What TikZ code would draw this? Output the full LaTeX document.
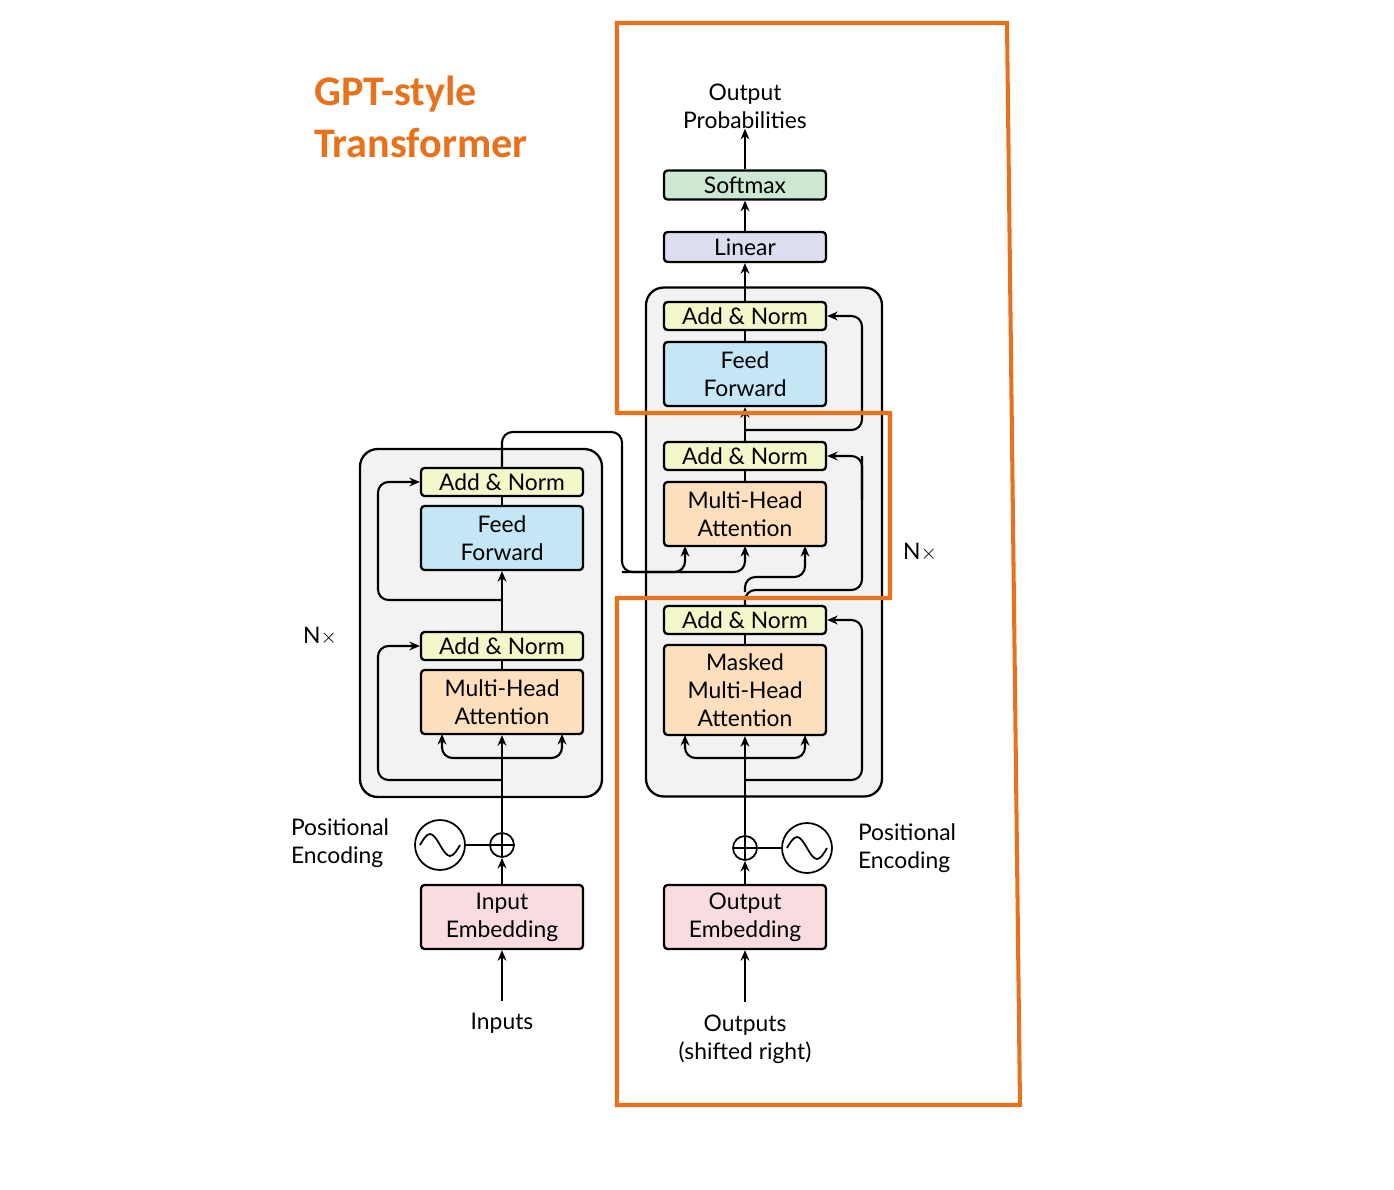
\documentclass[tikz,border=0pt]{standalone}
\usepackage{fontspec}
\setmainfont{Lato}
\newfontfamily\titlefont{Carlito}
\usetikzlibrary{arrows.meta}
\definecolor{orng}{HTML}{E8711C}
\definecolor{anC}{HTML}{F3F7C9}
\definecolor{ffC}{HTML}{C4E6F5}
\definecolor{mhC}{HTML}{FDDFBD}
\definecolor{emC}{HTML}{F8DCE0}
\definecolor{liC}{HTML}{DCDEF0}
\definecolor{smC}{HTML}{CCE8D2}
\definecolor{grC}{HTML}{F2F2F2}
\begin{document}
\begin{tikzpicture}[x=0.02cm,y=-0.02cm,
  txt/.style={font=\fontsize{13}{16}\selectfont,align=center,inner sep=0},
  box/.style={draw,line width=1.3pt,rounded corners=2pt,minimum width=3.24cm,txt},
  an/.style={box,fill=anC,minimum height=0.56cm},
  ff/.style={box,fill=ffC,minimum height=1.28cm},
  mh/.style={box,fill=mhC,minimum height=1.28cm},
  em/.style={box,fill=emC,minimum height=1.28cm},
  grp/.style={draw,line width=1.3pt,fill=grC,rounded corners=10pt},
  ln/.style={line width=1.2pt,rounded corners=6pt},
  arr/.style={ln,-{Stealth[length=6pt,width=5pt]}},
  plus/.style={draw,circle,line width=1pt,minimum size=0.48cm,inner sep=0,
    path picture={\draw[line width=1pt] (path picture bounding box.north)--(path picture bounding box.south)
      (path picture bounding box.west)--(path picture bounding box.east);}},
  sine/.style={draw,circle,line width=1pt,minimum size=1cm,inner sep=0}]
\useasboundingbox (0,0) rectangle (1394,1190);
% title
\node[anchor=west,text=orng,font=\titlefont\bfseries\fontsize{24}{30}\selectfont,align=left] (title) at (308,117) {GPT-style\\Transformer};
% groups
\node[grp,minimum width=4.84cm,minimum height=6.96cm] (eG) at (481,623) {};
\node[grp,minimum width=4.72cm,minimum height=10.18cm] (dG) at (764,542) {};
% encoder
\node[an] (eAN2) at (502,482) {Add \& Norm};
\node[ff] (eFF) at (502,538) {Feed\\Forward};
\node[an] (eAN1) at (502,646) {Add \& Norm};
\node[mh] (eMHA) at (502,702) {Multi-Head\\Attention};
\node[em] (inE) at (502,917) {Input\\Embedding};
\node[txt] (inp) at (502,1023) {Inputs};
\node[plus] (plE) at (502,845) {};
\node[sine] (siE) at (440,845) {};
\draw[line width=1pt] (siE.center) ++(-20,0) sin ++(10,-11) cos ++(10,11) sin ++(10,11) cos ++(10,-11);
\node[txt,align=left] (peE) at (340,843) {Positional\\Encoding};
\node[txt] (nxE) at (320,636) {N$\times$};
% decoder
\node[an] (dAN3) at (745,316) {Add \& Norm};
\node[ff] (dFF) at (745,374) {Feed\\Forward};
\node[an] (dAN2) at (745,456) {Add \& Norm};
\node[mh] (dMHA) at (745,514) {Multi-Head\\Attention};
\node[an] (dAN1) at (745,620) {Add \& Norm};
\node[box,fill=mhC,minimum height=1.8cm] (dMM) at (745,690) {Masked\\Multi-Head\\Attention};
\node[em] (outE) at (745,917) {Output\\Embedding};
\node[txt] (outp) at (745,1039) {Outputs\\(shifted right)};
\node[plus] (plD) at (745,848) {};
\node[sine] (siD) at (807,848) {};
\draw[line width=1pt] (siD.center) ++(-20,0) sin ++(10,-11) cos ++(10,11) sin ++(10,11) cos ++(10,-11);
\node[txt,align=left] (peD) at (907,848) {Positional\\Encoding};
\node[txt] (nxD) at (920,552) {N$\times$};
\node[box,fill=liC,minimum height=0.6cm] (lin) at (745,247) {Linear};
\node[box,fill=smC,minimum height=0.58cm] (sm) at (745,185) {Softmax};
\node[txt] (prob) at (745,106) {Output\\Probabilities};
% encoder connectors
\draw[arr] (inp.north) ++(0,-12) -- (inE.south);
\draw[arr] (inE.north) -- (plE.south);
\draw[line width=1pt] (siE.east) -- (plE.west);
\draw[arr] (plE.north) -- (eMHA.south);
\draw[arr] (502,758) -- (442,758) -- (442,734);
\draw[arr] (502,758) -- (562,758) -- (562,734);
\draw[arr] (502,780) -- (378,780) -- (378,646) -- (eAN1.west);
\draw[ln] (eMHA.north) -- (eAN1.south);
\draw[arr] (eAN1.north) -- (eFF.south);
\draw[ln] (eFF.north) -- (eAN2.south);
\draw[arr] (502,600) -- (378,600) -- (378,482) -- (eAN2.west);
\draw[ln] (eAN2.north) -- (502,432) -- (622,432) -- (622,572) -- (685,572);
\draw[arr] (622,572) -- (685,572) -- (685,546);
\draw[arr] (680,572) -- (745,572) -- (745,546);
% decoder connectors
\draw[arr] (outp.north) ++(0,-12) -- (outE.south);
\draw[arr] (outE.north) -- (plD.south);
\draw[line width=1pt] (siD.west) -- (plD.east);
\draw[arr] (plD.north) -- (dMM.south);
\draw[arr] (745,758) -- (685,758) -- (685,735);
\draw[arr] (745,758) -- (805,758) -- (805,735);
\draw[arr] (745,780) -- (862,780) -- (862,620) -- (dAN1.east);
\draw[ln] (dMM.north) -- (dAN1.south);
\draw[ln] (dAN1.north) -- (745,590) -- (862,590) -- (862,456);
\draw[arr] (862,500) -- (862,456) -- (dAN2.east);
\draw[arr] (745,592) -- (745,577) -- (805,577) -- (805,546);
\draw[ln] (dMHA.north) -- (dAN2.south);
\draw[arr] (dAN2.north) -- (dFF.south);
\draw[arr] (745,430) -- (862,430) -- (862,316) -- (dAN3.east);
\draw[ln] (dFF.north) -- (dAN3.south);
\draw[arr] (dAN3.north) -- (lin.south);
\draw[arr] (lin.north) -- (sm.south);
\draw[arr] (sm.north) -- (prob.south);
% orange outline
\draw[orng,line width=2.3pt] (617,23) -- (1007,23) -- (1020,1105) -- (617,1105) -- (617,598) -- (890,598) -- (890,413) -- (617,413) -- cycle;
\end{tikzpicture}
\end{document}
